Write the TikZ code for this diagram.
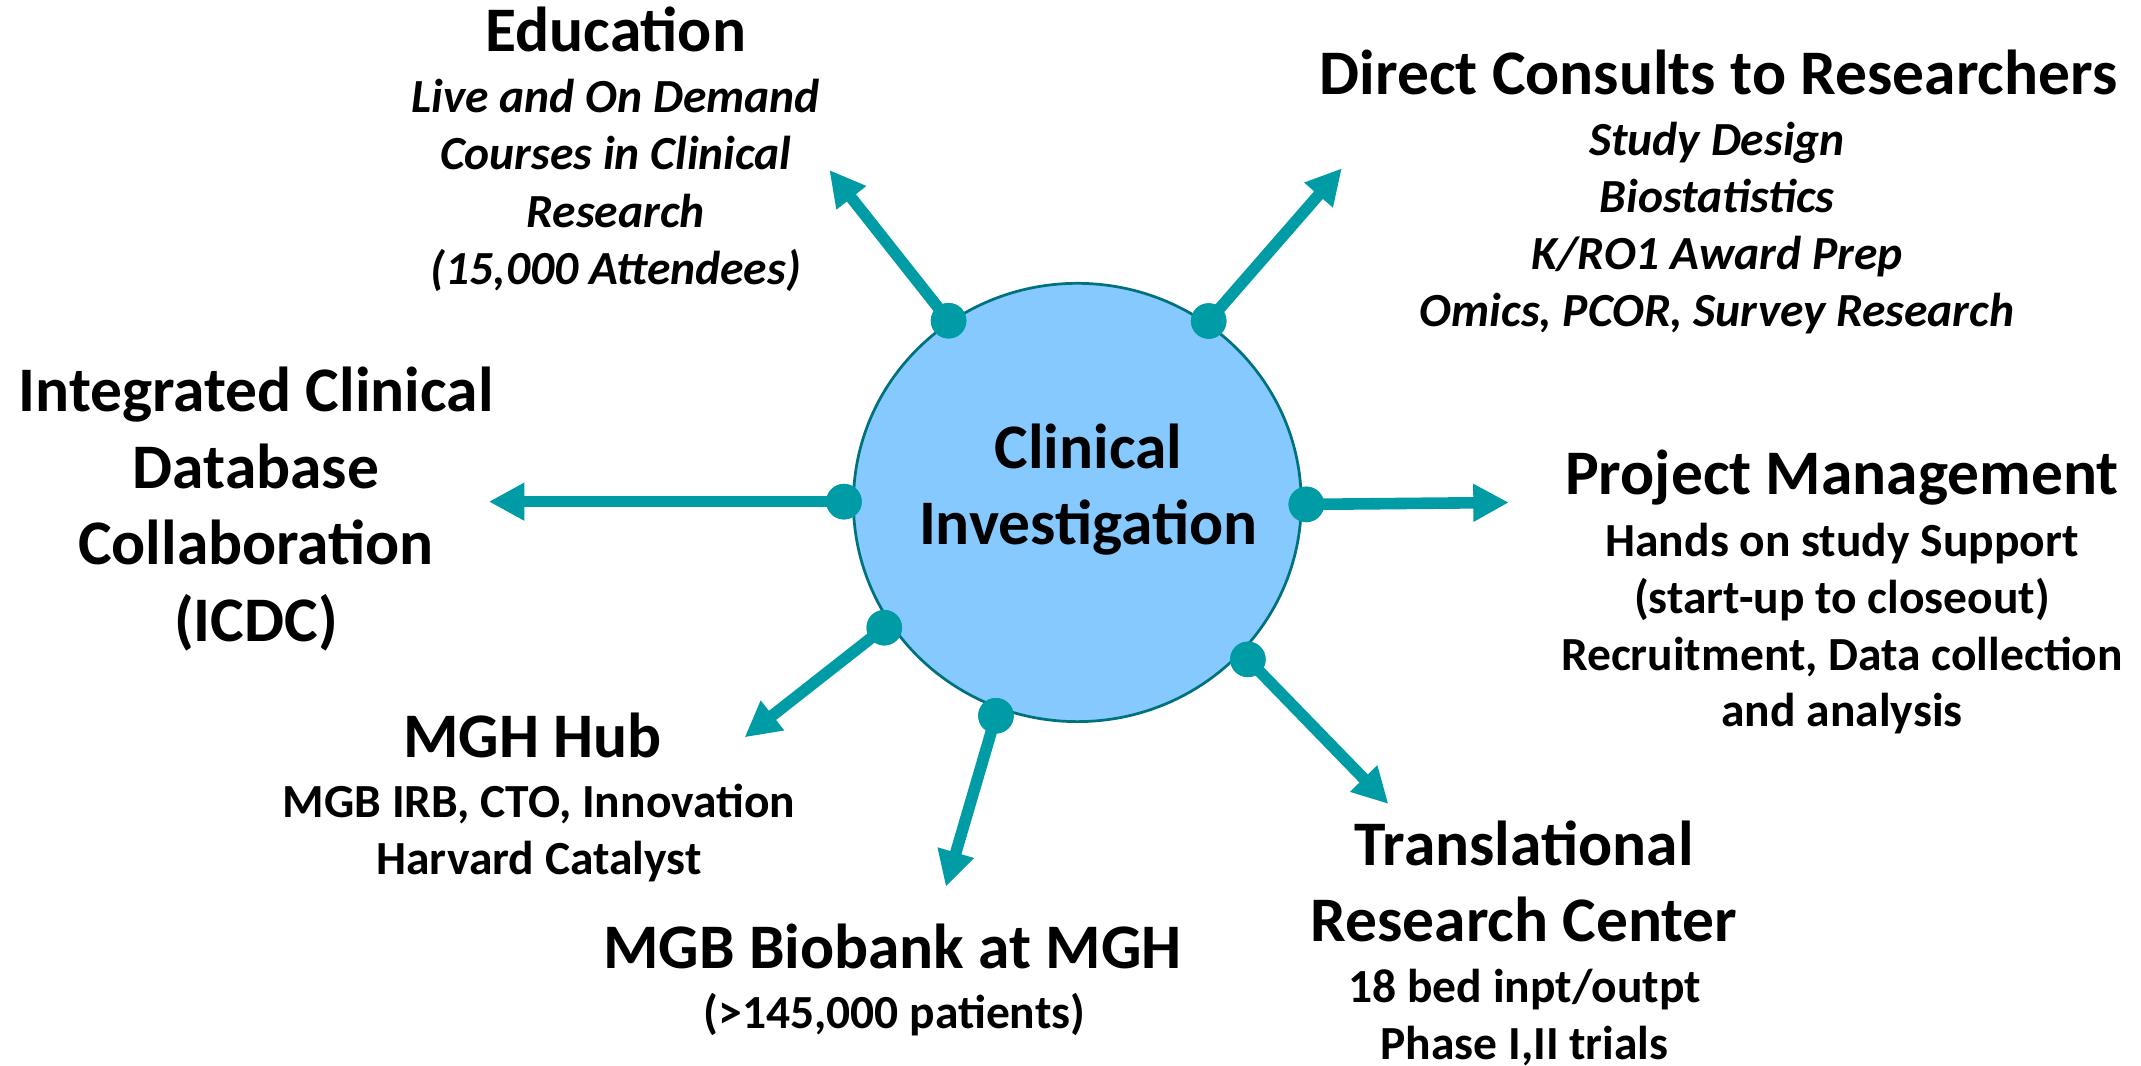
\documentclass[tikz,border=0pt]{standalone}
\usepackage{fontspec}
\setmainfont{Carlito}
\usetikzlibrary{arrows.meta,shapes.geometric}
\definecolor{tealc}{HTML}{009CA6}
\definecolor{cifill}{HTML}{85C9FF}
\definecolor{ciline}{HTML}{00727C}
\tikzset{
  hd/.style={font=\fontsize{46.5}{56.1}\selectfont\bfseries, align=center, inner sep=0pt, anchor=base},
  subt/.style={font=\fontsize{34.8}{41.5}\selectfont\bfseries, align=center, inner sep=0pt, anchor=base},
  subit/.style={font=\fontsize{34.8}{41.8}\selectfont\bfseries\itshape, align=center, inner sep=0pt, anchor=base},
  arr/.style={draw=tealc, line width=8.5pt, -{Triangle[length=26pt,width=26pt]}},
  dotc/.style={circle, fill=tealc, minimum size=26pt, inner sep=0pt},
}
\begin{document}
\begin{tikzpicture}[x=1pt,y=-1pt]
\path[use as bounding box, fill=white] (0,0) rectangle (1568,780.7);
% central circle
\node[ellipse, draw=ciline, line width=2pt, fill=cifill, minimum width=328pt, minimum height=321pt, inner sep=0pt] (ci) at (789,368) {};
% arrow tips
\coordinate (t1) at (607.4,124.5);
\coordinate (t2) at (982.7,123.3);
\coordinate (t3) at (358,367.4);
\coordinate (t4) at (1105,368);
\coordinate (t5) at (545.3,540);
\coordinate (t6) at (692.7,649.4);
\coordinate (t7) at (1016.8,588.8);
% dots
\node[dotc] (d1) at (694.7,234.9) {};
\node[dotc] (d2) at (885.2,235.1) {};
\node[dotc] (d3) at (618.1,367.4) {};
\node[dotc] (d4) at (956.7,369.4) {};
\node[dotc] (d5) at (647.6,459.7) {};
\node[dotc] (d6) at (729.4,524.2) {};
\node[dotc] (d7) at (913.9,482.9) {};
% arrows
\foreach \i in {1,...,7} { \draw[arr] (d\i.center) -- (t\i); }
\foreach \i in {1,...,7} { \node[dotc] at (d\i) {}; }
% texts (base anchor = baseline of last line)
\node[hd] (cit) at (797,399) {Clinical\\Investigation};
\node[hd] (edu) at (451,37.9) {Education};
\node[subit] (edus) at (451,208.1) {Live and On Demand\\Courses in Clinical\\Research\\(15,000 Attendees)};
\node[hd] (dir) at (1258.6,69) {Direct Consults to Researchers};
\node[subit] (dirs) at (1257.5,239.3) {Study Design\\Biostatistics\\K/RO1 Award Prep\\Omics, PCOR, Survey Research};
\node[hd] (icdc) at (187.5,469.7) {Integrated Clinical\\Database\\Collaboration\\(ICDC)};
\node[hd] (pm) at (1349,362.5) {Project Management};
\node[subt] (pms) at (1349,532.2) {Hands on study Support\\(start-up to closeout)\\Recruitment, Data collection\\and analysis};
\node[hd] (hub) at (390,554.7) {MGH Hub};
\node[subt] (hubs) at (394.7,640.5) {MGB IRB, CTO, Innovation\\Harvard Catalyst};
\node[hd] (bio) at (653.6,709.2) {MGB Biobank at MGH};
\node[subt] (bios) at (655,753.1) {(>145,000 patients)};
\node[hd] (trc) at (1116.2,689.7) {Translational\\Research Center};
\node[subt] (trcs) at (1116.5,775.8) {18 bed inpt/outpt\\Phase I,II trials};
\end{tikzpicture}
\end{document}
